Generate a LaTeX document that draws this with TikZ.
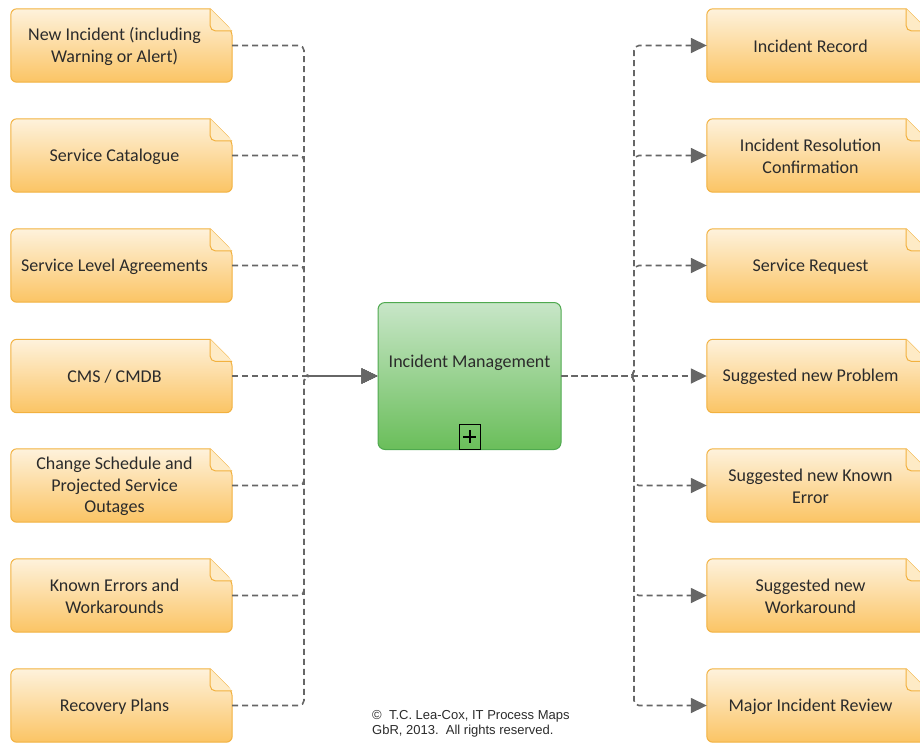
\documentclass[tikz,border=0pt]{standalone}
\usepackage{fontspec}
\setmainfont{Carlito}
\newfontfamily\arialfont{Liberation Sans}
\usetikzlibrary{arrows.meta,calc}

\definecolor{docTop}{HTML}{FEF2DC}
\definecolor{docMid}{HTML}{FDDFA6}
\definecolor{docBottom}{HTML}{FBC464}
\definecolor{docBorder}{HTML}{F2B13F}
\definecolor{docFold}{HTML}{FEEBC6}
\definecolor{procTop}{HTML}{C8E6C8}
\definecolor{procMid}{HTML}{9DD391}
\definecolor{procBottom}{HTML}{6ABE5A}
\definecolor{procBorder}{HTML}{4FA94F}
\definecolor{lineGray}{HTML}{666666}
\definecolor{txtGray}{HTML}{2B2B2B}

\tikzset{
  docbox/.style={minimum width=221pt, minimum height=73pt, inner sep=0pt},
  doctext/.style={align=center, font=\fontsize{18}{21.5}\selectfont, text=txtGray, inner sep=0pt},
  docshape/.style={top color=docTop, middle color=docMid, bottom color=docBottom, draw=docBorder, line width=1pt},
  foldshape/.style={fill=docFold, draw=docBorder, line width=1pt, rounded corners=5pt},
  flow/.style={draw=lineGray, line width=1.6pt, dash pattern=on 6pt off 4pt, rounded corners=5pt},
  tip/.style={-{Triangle[length=16pt,width=15pt]}},
  procbox/.style={minimum width=183pt, minimum height=147pt, inner sep=0pt, rounded corners=7pt,
    top color=procTop, middle color=procMid, bottom color=procBottom, draw=procBorder, line width=1pt},
}

\begin{document}
\begin{tikzpicture}[x=1pt,y=-1pt]
\useasboundingbox (0,0) rectangle (920,742);
\clip (0,0) rectangle (920,742);

% input documents (left column)
\node[docbox] (l1) at (121.5,45.5) {};
\node[docbox] (l2) at (121.5,155.5) {};
\node[docbox] (l3) at (121.5,265.5) {};
\node[docbox] (l4) at (121.5,376) {};
\node[docbox] (l5) at (121.5,485.5) {};
\node[docbox] (l6) at (121.5,595.5) {};
\node[docbox] (l7) at (121.5,705.5) {};

% output documents (right column)
\node[docbox] (r1) at (817.5,45.5) {};
\node[docbox] (r2) at (817.5,155.5) {};
\node[docbox] (r3) at (817.5,265.5) {};
\node[docbox] (r4) at (817.5,376) {};
\node[docbox] (r5) at (817.5,485.5) {};
\node[docbox] (r6) at (817.5,595.5) {};
\node[docbox] (r7) at (817.5,705.5) {};

% document shapes with folded corner
\foreach \n in {l1,l2,l3,l4,l5,l6,l7,r1,r2,r3,r4,r5,r6,r7}{
  \shadedraw[docshape] ($(\n.north east)+(-22,0)$) [rounded corners=6pt]
    -- (\n.north west) -- (\n.south west) -- (\n.south east)
    -- ($(\n.north east)+(0,22)$) [sharp corners] -- cycle;
  \filldraw[foldshape] ($(\n.north east)+(-22,0)$) -- ($(\n.north east)+(-22,22)$)
    -- ($(\n.north east)+(0,22)$);
}

% document labels
\node[doctext] (l1t) at ($(l1)+(-7,1)$) {New Incident (including\\Warning or Alert)};
\node[doctext] (l2t) at ($(l2)+(-7,1)$) {Service Catalogue};
\node[doctext] (l3t) at ($(l3)+(-7,1)$) {Service Level Agreements};
\node[doctext] (l4t) at ($(l4)+(-7,1)$) {CMS / CMDB};
\node[doctext] (l5t) at ($(l5)+(-7,1)$) {Change Schedule and\\Projected Service\\Outages};
\node[doctext] (l6t) at ($(l6)+(-7,1)$) {Known Errors and\\Workarounds};
\node[doctext] (l7t) at ($(l7)+(-7,1)$) {Recovery Plans};
\node[doctext] (r1t) at ($(r1)+(-7,1)$) {Incident Record};
\node[doctext] (r2t) at ($(r2)+(-7,1)$) {Incident Resolution\\Confirmation};
\node[doctext] (r3t) at ($(r3)+(-7,1)$) {Service Request};
\node[doctext] (r4t) at ($(r4)+(-7,1)$) {Suggested new Problem};
\node[doctext] (r5t) at ($(r5)+(-7,1)$) {Suggested new Known\\Error};
\node[doctext] (r6t) at ($(r6)+(-7,1)$) {Suggested new\\Workaround};
\node[doctext] (r7t) at ($(r7)+(-7,1)$) {Major Incident Review};

% central process
\node[procbox] (cm) at (469.5,376) {};
\node[doctext] (cmt) at (469.5,363) {Incident Management};
\node[draw=black, line width=1pt, minimum width=21pt, minimum height=25pt, inner sep=0pt] (plus) at (469.5,436.5) {};
\draw[line width=2pt] ($(plus)+(-6.5,0)$) -- ($(plus)+(6.5,0)$);
\draw[line width=2pt] ($(plus)+(0,-6.5)$) -- ($(plus)+(0,6.5)$);

% bus lines
\coordinate (busL) at (304,376);
\coordinate (busR) at (634,376);

% inputs into the process
\foreach \n in {l1,l2,l3,l5,l6,l7}{
  \draw[flow,tip] (\n.east) -| (busL) -- (cm.west);
}
\draw[flow,tip] (l4.east) -- (cm.west);

% outputs from the process
\foreach \n in {r1,r2,r3,r5,r6,r7}{
  \draw[flow,tip] (cm.east) -- (busR) |- (\n.west);
}
\draw[flow,tip] (cm.east) -- (r4.west);

% copyright note
\node[anchor=north west, align=left, inner sep=0pt, text=txtGray,
  font=\arialfont\fontsize{13}{15}\selectfont] (copy) at (372,710)
  {©\ \ T.C. Lea-Cox, IT Process Maps\\GbR, 2013.\ \ All rights reserved.};
\end{tikzpicture}
\end{document}
